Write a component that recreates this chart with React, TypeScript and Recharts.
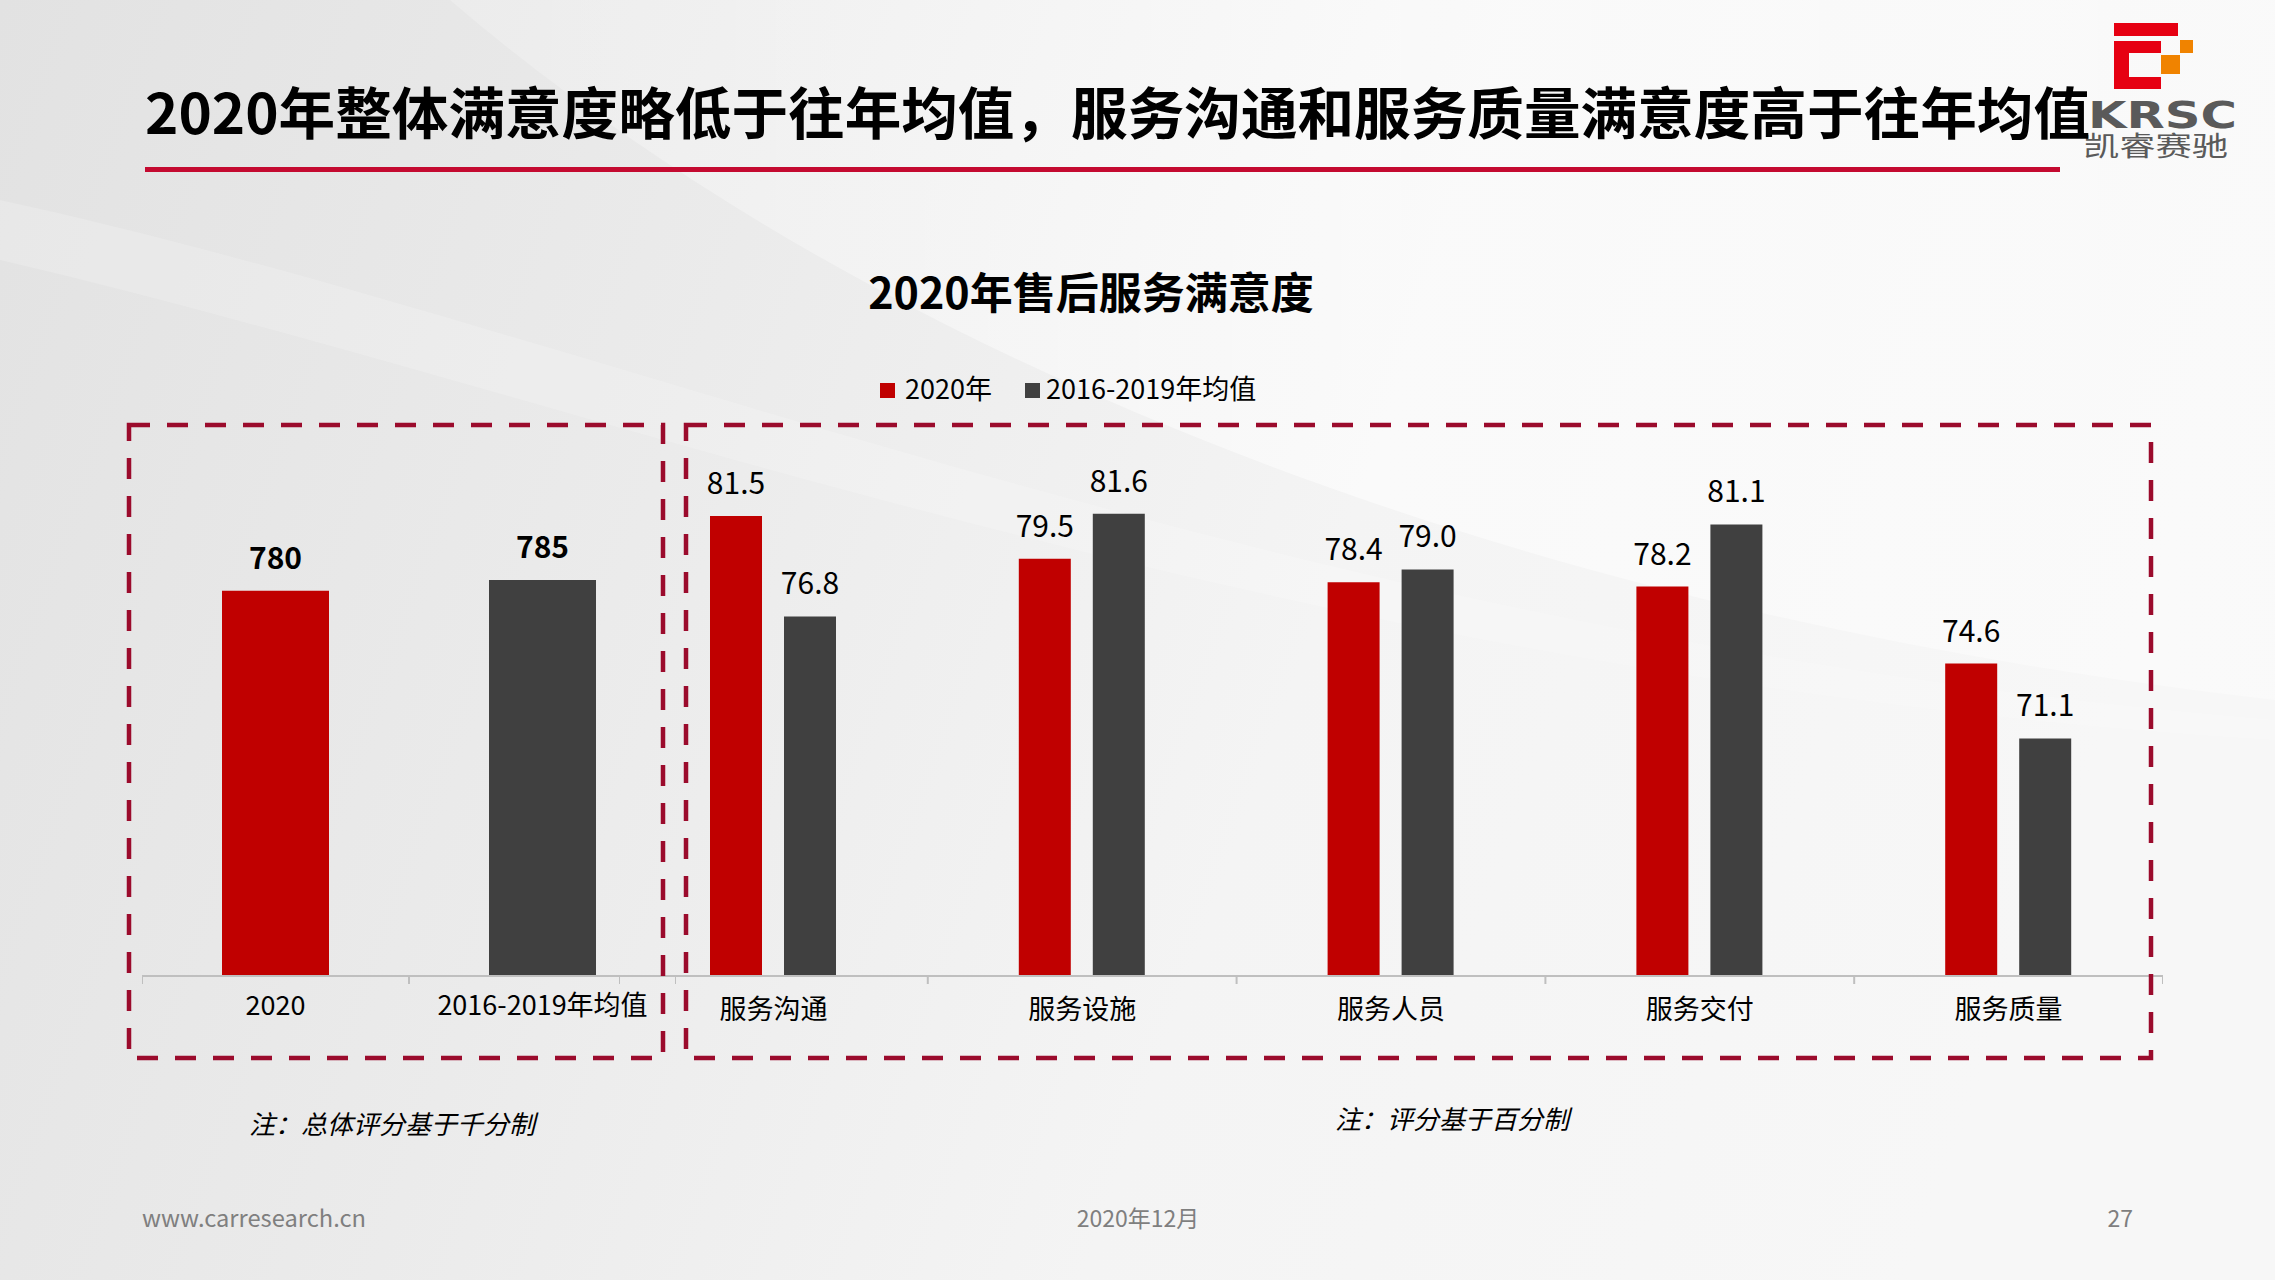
import React from 'react';
import { BarChart, Bar, XAxis, YAxis, LabelList, Cell } from 'recharts';

// overall score (1000-point scale)
const overallCategories = ['2020', '2016-2019年均值'];
const overallValues = [780, 785];

// service items (100-point scale)
const serviceCategories = ['服务沟通', '服务设施', '服务人员', '服务交付', '服务质量'];
const values2020 = [81.5, 79.5, 78.4, 78.2, 74.6];
const valuesAvg = [76.8, 81.6, 79.0, 81.1, 71.1];

const seriesNames = ['2020年', '2016-2019年均值'];
const seriesColors = ['#C00000', '#404040'];

const FONT = '"Noto Sans CJK SC", "Noto Sans", sans-serif';
const AXIS_GRAY = '#BFBFBF';
const BOX_RED = '#9B0B2C';

const overallData = overallCategories.map((name, i) => ({ name, value: overallValues[i] }));
const serviceData = serviceCategories.map((name, i) => ({
  name,
  current: values2020[i],
  average: valuesAvg[i],
}));

const LEFT_W = 534;
const RIGHT_W = 1544;
const CHART_H = 700;
const MARGIN = { top: 81, right: 0, bottom: 0, left: 0 };

function makeTick(band: number, count: number, dy: number) {
  return (props: any) => {
    const { x, y, payload, index } = props;
    return (
      <g>
        <line x1={x - band / 2} x2={x - band / 2} y1={y - 8} y2={y} stroke={AXIS_GRAY} strokeWidth={2} />
        {index === count - 1 && (
          <line x1={x + band / 2} x2={x + band / 2} y1={y - 8} y2={y} stroke={AXIS_GRAY} strokeWidth={2} />
        )}
        <text x={x} y={y + dy} textAnchor="middle" fontSize={27} fill="#000" fontFamily={FONT}>
          {payload.value}
        </text>
      </g>
    );
  };
}

function Background() {
  return (
    <svg width={2275} height={1280} style={{ position: 'absolute', left: 0, top: 0 }}>
      <defs>
        <linearGradient id="bg" x1="0" y1="0" x2="1" y2="0.2">
          <stop offset="0" stopColor="#E2E2E2" />
          <stop offset="0.35" stopColor="#EBEBEB" />
          <stop offset="0.65" stopColor="#F4F4F4" />
          <stop offset="1" stopColor="#F7F7F7" />
        </linearGradient>
        <linearGradient id="sw" x1="0" y1="0" x2="1" y2="0">
          <stop offset="0" stopColor="#FFFFFF" stopOpacity="0.2" />
          <stop offset="0.5" stopColor="#FFFFFF" stopOpacity="0.55" />
          <stop offset="1" stopColor="#FFFFFF" stopOpacity="0.35" />
        </linearGradient>
      </defs>
      <rect x={0} y={0} width={2275} height={1280} fill="url(#bg)" />
      <path d="M 450 0 C 800 300, 1400 600, 2275 700 L 2275 0 Z" fill="url(#sw)" />
      <path d="M 0 200 C 600 330, 1300 640, 2275 720 L 2275 740 C 1300 680, 600 400, 0 260 Z" fill="#FFFFFF" opacity={0.18} />
    </svg>
  );
}

function Overlay() {
  return (
    <svg width={2275} height={1280} style={{ position: 'absolute', left: 0, top: 0, pointerEvents: 'none' }} fontFamily={FONT}>
      {/* logo */}
      <rect x={2114} y={23} width={64} height={13} fill="#E60012" />
      <path d="M 2114 41 H 2161 V 53 H 2129 V 77 H 2161 V 89 H 2114 Z" fill="#E60012" />
      <rect x={2180} y={40} width={13} height={13} fill="#F08300" />
      <rect x={2161} y={55} width={19} height={19} fill="#F08300" />
      <text x={2088} y={128} fontSize={38} fontWeight={700} fill="#5A5A5A" textLength={149} lengthAdjust="spacingAndGlyphs" fontFamily='"DejaVu Sans", sans-serif'>
        KRSC
      </text>
      <text x={2083} y={156} fontSize={27} fill="#5A5A5A" textLength={145} lengthAdjust="spacingAndGlyphs">
        凯睿赛驰
      </text>

      {/* headline */}
      <text x={145} y={134} fontSize={56} fontWeight={700} fill="#000" textLength={1945} lengthAdjust="spacingAndGlyphs">
        2020年整体满意度略低于往年均值，服务沟通和服务质量满意度高于往年均值
      </text>
      <rect x={145} y={167} width={1915} height={5} fill="#C40A30" />

      {/* chart title */}
      <text x={1091} y={309} fontSize={43} fontWeight={700} fill="#000" textAnchor="middle">
        2020年售后服务满意度
      </text>

      {/* legend */}
      <rect x={880} y={383} width={15} height={15} fill={seriesColors[0]} />
      <text x={905} y={399} fontSize={27} fill="#000">{seriesNames[0]}</text>
      <rect x={1025} y={383} width={15} height={15} fill={seriesColors[1]} />
      <text x={1046} y={399} fontSize={27} fill="#000">{seriesNames[1]}</text>

      {/* dashed frames */}
      <rect x={129} y={425} width={534} height={633} fill="none" stroke={BOX_RED} strokeWidth={4.5} strokeDasharray="21 17" />
      <rect x={686} y={425} width={1465} height={633} fill="none" stroke={BOX_RED} strokeWidth={4.5} strokeDasharray="21 17" />

      {/* notes */}
      <text x={249} y={1134} fontSize={26} fontStyle="italic" fill="#000">注：总体评分基于千分制</text>
      <text x={1335} y={1129} fontSize={26} fontStyle="italic" fill="#000">注：评分基于百分制</text>

      {/* footer */}
      <text x={142} y={1227} fontSize={23} fill="#7F7F7F" textLength={224} lengthAdjust="spacingAndGlyphs">www.carresearch.cn</text>
      <text x={1138} y={1227} fontSize={23} fill="#7F7F7F" textAnchor="middle">2020年12月</text>
      <text x={2133} y={1227} fontSize={23} fill="#7F7F7F" textAnchor="end">27</text>
    </svg>
  );
}

export default function App() {
  return (
    <div
      style={{
        position: 'absolute',
        left: 0,
        top: 0,
        width: 2275,
        height: 1280,
        overflow: 'hidden',
        fontFamily: FONT,
      }}
    >
      <Background />

      <div style={{ position: 'absolute', left: 142, top: 360 }}>
        <BarChart width={LEFT_W} height={CHART_H} data={overallData} margin={MARGIN}>
          <XAxis
            dataKey="name"
            height={84}
            tickSize={8}
            tickMargin={0}
            tickLine={false}
            axisLine={{ stroke: AXIS_GRAY, strokeWidth: 2 }}
            interval={0}
            tick={makeTick(LEFT_W / overallCategories.length, overallCategories.length, 31)}
          />
          <YAxis hide domain={[600, 850]} allowDataOverflow />
          <Bar dataKey="value" barSize={107} isAnimationActive={false}>
            {overallData.map((d, i) => (
              <Cell key={d.name} fill={seriesColors[i]} />
            ))}
            <LabelList
              dataKey="value"
              position="top"
              offset={22}
              style={{ fontSize: 30, fontWeight: 700, fill: '#000', fontFamily: FONT }}
            />
          </Bar>
        </BarChart>
      </div>

      <div style={{ position: 'absolute', left: 619, top: 360 }}>
        <BarChart width={RIGHT_W} height={CHART_H} data={serviceData} margin={MARGIN} barGap={22}>
          <XAxis
            dataKey="name"
            height={84}
            tickSize={8}
            tickMargin={0}
            tickLine={false}
            axisLine={{ stroke: AXIS_GRAY, strokeWidth: 2 }}
            interval={0}
            tick={makeTick(RIGHT_W / serviceCategories.length, serviceCategories.length, 35)}
          />
          <YAxis hide domain={[60, 85]} allowDataOverflow />
          <Bar dataKey="current" name={seriesNames[0]} fill={seriesColors[0]} barSize={52} isAnimationActive={false}>
            <LabelList
              dataKey="current"
              position="top"
              offset={22}
              formatter={(v: any) => Number(v).toFixed(1)}
              style={{ fontSize: 30, fill: '#000', fontFamily: FONT }}
            />
          </Bar>
          <Bar dataKey="average" name={seriesNames[1]} fill={seriesColors[1]} barSize={52} isAnimationActive={false}>
            <LabelList
              dataKey="average"
              position="top"
              offset={22}
              formatter={(v: any) => Number(v).toFixed(1)}
              style={{ fontSize: 30, fill: '#000', fontFamily: FONT }}
            />
          </Bar>
        </BarChart>
      </div>

      <Overlay />
    </div>
  );
}
